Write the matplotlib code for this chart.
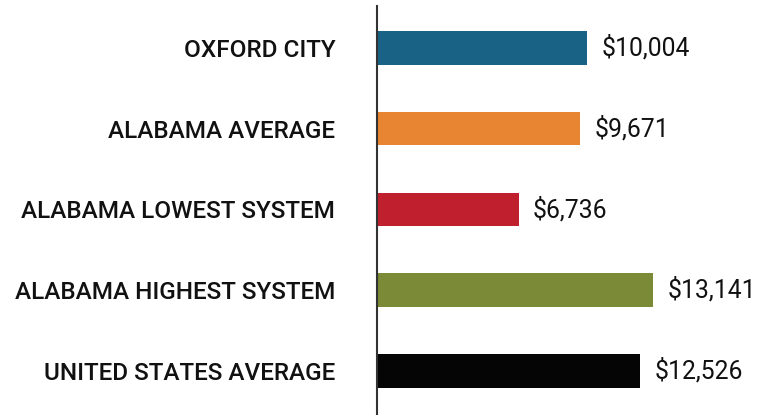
import matplotlib
matplotlib.use("Agg")
import matplotlib.pyplot as plt

categories = ["OXFORD CITY", "ALABAMA AVERAGE", "ALABAMA LOWEST SYSTEM",
              "ALABAMA HIGHEST SYSTEM", "UNITED STATES AVERAGE"]
values = [10004, 9671, 6736, 13141, 12526]
colors = ["#1a6285", "#e78533", "#c0202e", "#7a8a36", "#050505"]

plt.rcParams["font.family"] = ["Roboto", "DejaVu Sans"]

fig = plt.figure(figsize=(7.75, 4.15), dpi=100)
ax = fig.add_axes([377 / 775, 0, 398 / 775, 409 / 415])

pos = list(range(len(categories)))
ax.barh(pos, values, height=0.415, color=colors)
for p, v in zip(pos, values):
    ax.text(v + 660, p, "${:,}".format(v), va="center", ha="left",
            fontsize=17.8, color="#111111")

ax.set_xlim(0, 18922)
ax.set_ylim(4.545, -0.52)
ax.set_yticks(pos)
ax.set_yticklabels(categories, fontsize=17.5, fontweight="medium", color="#111111")
ax.tick_params(axis="y", length=0, pad=30)
ax.set_xticks([])
for s in ["top", "right", "bottom"]:
    ax.spines[s].set_visible(False)
ax.spines["left"].set_color("#333333")
ax.spines["left"].set_linewidth(1.5)

fig.savefig("out.png", dpi=100)
